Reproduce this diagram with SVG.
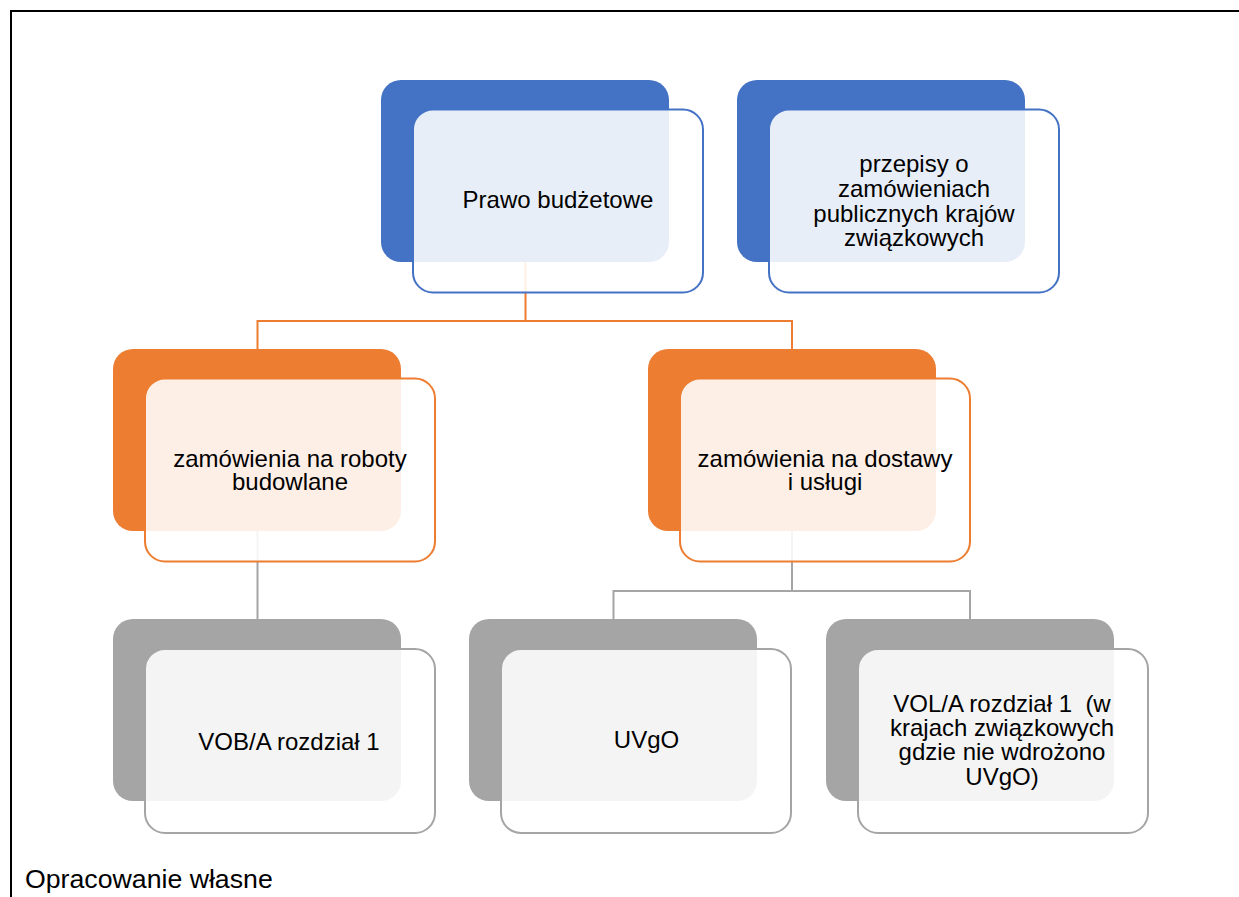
<svg xmlns="http://www.w3.org/2000/svg" width="1239" height="897" viewBox="0 0 1239 897">
<style>
text{font-family:"Liberation Sans",Arial,sans-serif;font-size:24px;fill:#000;text-anchor:middle;white-space:pre}
.back{stroke:none}
.front{fill:#fff;fill-opacity:0.88;stroke-width:2}
.blue .back{fill:#4472C4}.blue .front{stroke:#4472C4}
.orange .back{fill:#ED7D31}.orange .front{stroke:#ED7D31}
.gray .back{fill:#A5A5A5}.gray .front{stroke:#A5A5A5}
.conn{fill:none;stroke-width:2}
</style>
<rect width="1239" height="897" fill="#fff"/>
<g id="frame" fill="none" stroke="#000" stroke-width="2">
<path d="M10 11H1239M11 10V897"/>
</g>
<g id="connectors">
<path class="conn" stroke="#ED7D31" d="M525.5 262V321M257.5 349V321H792V349"/>
<path class="conn" stroke="#A5A5A5" d="M257.5 531V619M792 531V591M613.5 619V591H970V619"/>
</g>
<g id="n1" class="blue">
<rect class="back" x="381" y="80" width="288" height="182" rx="20"/>
<rect class="front" x="413" y="109.5" width="290" height="183" rx="20"/>
<text x="558" y="208">Prawo budżetowe</text>
</g>
<g id="n2" class="blue">
<rect class="back" x="737" y="80" width="288" height="182" rx="20"/>
<rect class="front" x="769" y="109.5" width="290" height="183" rx="20"/>
<text x="914" y="172">przepisy o</text>
<text x="914" y="197">zamówieniach</text>
<text x="914" y="221.5">publicznych krajów</text>
<text x="914" y="245.5">związkowych</text>
</g>
<g id="n3" class="orange">
<rect class="back" x="113" y="349" width="288" height="182" rx="20"/>
<rect class="front" x="145" y="378.5" width="290" height="183" rx="20"/>
<text x="290" y="466.5">zamówienia na roboty</text>
<text x="290" y="490">budowlane</text>
</g>
<g id="n4" class="orange">
<rect class="back" x="648" y="349" width="288" height="182" rx="20"/>
<rect class="front" x="680" y="378.5" width="290" height="183" rx="20"/>
<text x="825" y="466.5">zamówienia na dostawy</text>
<text x="825" y="490">i usługi</text>
</g>
<g id="n5" class="gray">
<rect class="back" x="113" y="619" width="288" height="182" rx="20"/>
<rect class="front" x="145" y="649" width="290" height="184" rx="20"/>
<text x="289" y="750">VOB/A rozdział 1</text>
</g>
<g id="n6" class="gray">
<rect class="back" x="469" y="619" width="288" height="182" rx="20"/>
<rect class="front" x="501" y="649" width="290" height="184" rx="20"/>
<text x="646.5" y="748">UVgO</text>
</g>
<g id="n7" class="gray">
<rect class="back" x="826" y="619" width="288" height="182" rx="20"/>
<rect class="front" x="858" y="649" width="290" height="184" rx="20"/>
<text x="1002" y="711.5">VOL/A rozdział 1  (w</text>
<text x="1002" y="735.5">krajach związkowych</text>
<text x="1002" y="760">gdzie nie wdrożono</text>
<text x="1002" y="784.5">UVgO)</text>
</g>
<text x="25" y="888" style="text-anchor:start;font-size:26.7px">Opracowanie własne</text>
</svg>
